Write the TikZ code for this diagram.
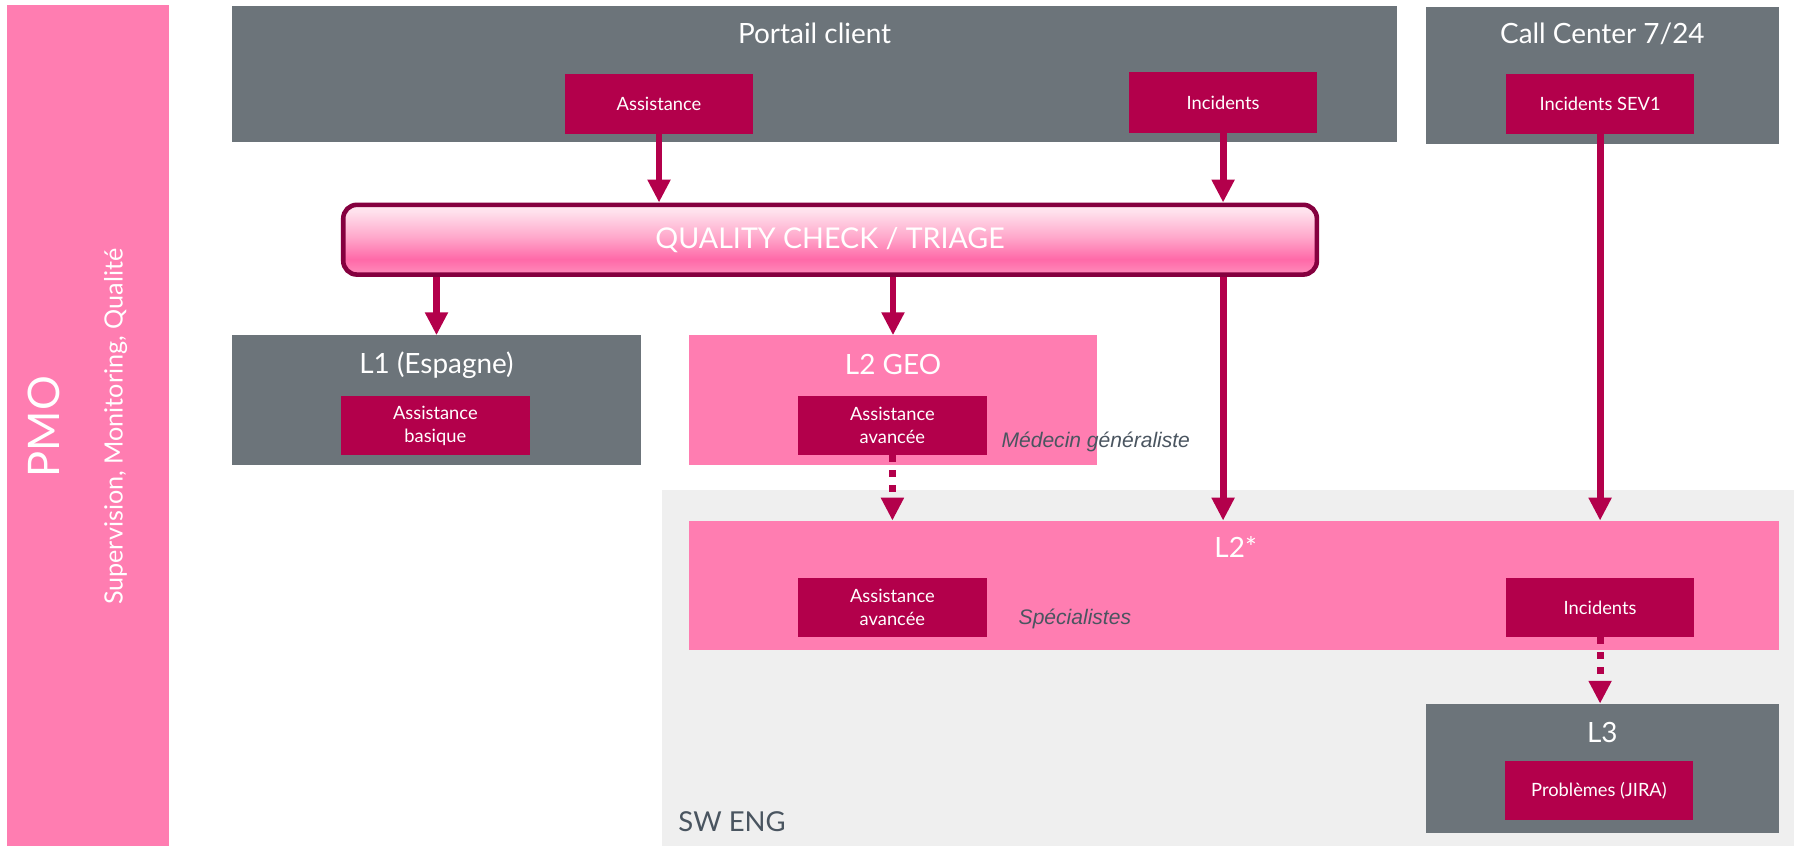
\documentclass[tikz,border=0pt]{standalone}
\usepackage{fontspec}
\setmainfont{Lato}
\newfontfamily\labelfont{Liberation Sans}
\usetikzlibrary{arrows.meta,calc}
\definecolor{pmopink}{HTML}{FF7DB1}
\definecolor{mag}{HTML}{B3004B}
\definecolor{boxgray}{HTML}{6C747A}
\definecolor{swgray}{HTML}{EFEFEF}
\definecolor{txtgray}{HTML}{4A5560}
\definecolor{qcborder}{HTML}{85003F}
\definecolor{qcA}{HTML}{FF8DBC}
\definecolor{qcB}{HTML}{FF69A8}
\definecolor{qcC}{HTML}{FFA8CB}
\definecolor{qcD}{HTML}{FFE0EC}
\definecolor{qcE}{HTML}{FFE8F1}
\pgfdeclareverticalshading{qcshade}{100bp}{color(0bp)=(qcA); color(25bp)=(qcA); color(36bp)=(qcB); color(52bp)=(qcC); color(70bp)=(qcD); color(75bp)=(qcE); color(100bp)=(qcE)}
\begin{document}
\begin{tikzpicture}[x=0.5pt,y=-0.5pt,
  area/.style={draw=none, inner sep=0pt, outer sep=0pt, anchor=north west},
  graybox/.style={area, fill=boxgray},
  pinkbox/.style={area, fill=pmopink},
  magbox/.style={fill=mag, text=white, font=\fontsize{8}{10}\selectfont, align=center, inner sep=0pt, outer sep=0pt, minimum width=82.5pt, minimum height=26pt},
  title/.style={text=white, font=\fontsize{12.2}{14}\selectfont, inner sep=0pt},
  flow/.style={draw=mag, line width=3pt, -{Triangle[width=9.5pt,length=10pt]}},
  dotflow/.style={flow, dash pattern=on 3pt off 3.5pt},
  note/.style={text=txtgray, font=\labelfont\itshape\fontsize{9.2}{11}\selectfont, anchor=west, inner sep=0pt}
]
\useasboundingbox (0,0) rectangle (1568,739);
% background areas
\node[area, fill=swgray, minimum width=494.5pt, minimum height=155.5pt] (sweng) at (579,428) {};
\node[area, text=txtgray, font=\fontsize{12}{14}\selectfont, anchor=west] (swengt) at (593,718) {SW ENG};
% PMO
\node[pinkbox, minimum width=71pt, minimum height=367.5pt] (pmo) at (6,4) {};
\node[rotate=90, text=white, font=\fontsize{19}{23}\selectfont, inner sep=0pt] (pmot) at (38,373) {PMO};
\node[rotate=90, text=white, font=\fontsize{11}{13}\selectfont, inner sep=0pt] (pmos) at (101,373) {Supervision, Monitoring, Qualité};
% Portail client
\node[graybox, minimum width=509pt, minimum height=59.5pt] (portail) at (203,5) {};
\node[title] (portailt) at (712,29) {Portail client};
\node[magbox] (assist1) at (576,91) {Assistance};
\node[magbox, minimum width=82pt, minimum height=26.5pt] (inc1) at (1069,89.5) {Incidents};
% Call center
\node[graybox, minimum width=154.5pt, minimum height=60pt] (call) at (1246,6) {};
\node[title] (callt) at (1400.5,30) {Call Center 7/24};
\node[magbox] (sev1) at (1398.5,91) {Incidents SEV1};
% Quality check
\node[rounded corners=6pt, draw=qcborder, line width=2pt, shading=qcshade, minimum width=425.5pt, minimum height=30.5pt, text=white, font=\fontsize{12.5}{15}\selectfont, inner sep=0pt] (qc) at (725.5,209.5) {QUALITY CHECK / TRIAGE};
% L1
\node[graybox, minimum width=178.5pt, minimum height=56.5pt] (l1) at (203,293) {};
\node[title] (l1t) at (381.5,319) {L1 (Espagne)};
\node[magbox] (basique) at (380.5,372) {Assistance\\basique};
% L2 GEO
\node[pinkbox, minimum width=178.5pt, minimum height=56.5pt] (l2geo) at (602,293) {};
\node[title] (l2geot) at (780.5,319) {L2 GEO};
\node[magbox] (avancee1) at (780,372) {Assistance\\avancée};
\node[note] (medecin) at (875,386) {Médecin généraliste};
% L2*
\node[pinkbox, minimum width=476.5pt, minimum height=56.5pt] (l2star) at (602,455) {};
\node[title] (l2start) at (1080,478) {L2*};
\node[magbox] (avancee2) at (780,531) {Assistance\\avancée};
\node[note] (specialistes) at (890,541) {Spécialistes};
\node[magbox] (inc2) at (1398.5,531) {Incidents};
% L3
\node[graybox, minimum width=154.5pt, minimum height=56.5pt] (l3) at (1246,615) {};
\node[title] (l3t) at (1400.5,640) {L3};
\node[magbox] (jira) at (1397.5,691) {Problèmes (JIRA)};
% connectors
\draw[flow] (assist1.south) -- (assist1.south |- qc.north);
\draw[flow] (inc1.south) -- (inc1.south |- qc.north);
\draw[flow] (qc.south -| l1.north) -- (l1.north);
\draw[flow] (qc.south -| l2geo.north) -- (l2geo.north);
\draw[flow] (qc.south -| inc1.south) -- (inc1.south |- l2star.north);
\draw[flow] (sev1.south) -- (sev1.south |- l2star.north);
\draw[dotflow] (avancee1.south) -- (avancee1.south |- l2star.north);
\draw[dotflow] (inc2.south) -- (inc2.south |- l3.north);
\end{tikzpicture}
\end{document}
